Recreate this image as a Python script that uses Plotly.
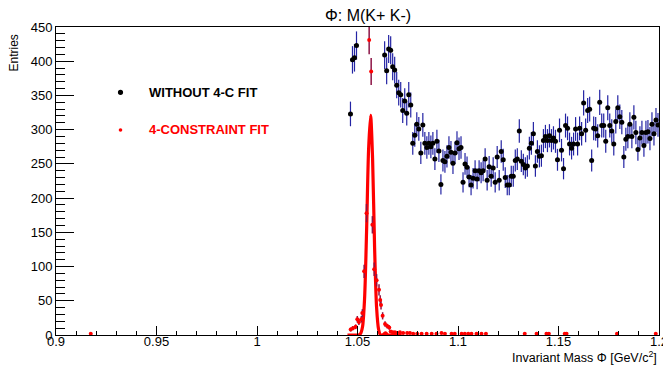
import numpy as np
import plotly.graph_objects as go

FONT = "Liberation Sans, Arial, sans-serif"

# ---------------- data ----------------
# black histogram (without 4-C fit): bin centres 1.0465 .. 1.1995, width 0.001
black_mass = [round(1.0465 + 0.001 * i, 4) for i in range(154)]
black_counts = [
    323, 402, 405, 423,
    None, None, None, None, None, None, None, None, None, None, None, None, None,   # off scale (>450)
    409, 386, 418, 416, 392, 387, 365, 354, 351, 328, 342, 324, 351, 336, 280, 292,
    308, 301, 266, 307, 280, 274, 280, 275, 280, 257, 283,
    269, 220, 255, 253, 261, 274, 267, 251, 266, 281, 272, 274, 223, 250, 245, 231,
    219, 229, 240, 228, 240, 237, 240, 257, 226, 246, 232, 244, 223, 260, 226, 268,
    256, 230, 219, 219, 232, 232, 255, 257, 298, 254, 249, 244, 247, 273, 280, 294,
    247, 268, 261, 262, 284, 290, 284, 291, 284, 288, 283, 256, 299, 270, 243, 306,
    302, 279, 273, 279, 301, 279, 302, 294, 339, 299, 328, 330, 255, 302, 301, 291,
    340, 306, 306, 283, 332, 306, 298, 279, 312, 332, 319, 311, 260, 286, 290, 308,
    290, 318, 296, 271, 288, 296, 277, 296, 297, 287, 308, 294, 314, 307,
]

# red histogram (4-constraint fit) markers
red_mass = [0.9173, 1.0466, 1.0477, 1.0491, 1.0499, 1.0507, 1.0519, 1.0524, 1.0533,
            1.0545, 1.0558, 1.0568, 1.0574, 1.0583, 1.0595, 1.0607, 1.0613, 1.0617,
            1.0625, 1.0637, 1.0648, 1.0658, 1.0665, 1.0675, 1.0686, 1.0695, 1.0711,
            1.0727, 1.0747, 1.0761, 1.0777, 1.0797, 1.0819, 1.0844, 1.0869, 1.0893,
            1.0918, 1.0935, 1.0968, 1.0984, 1.1018, 1.1034, 1.1051, 1.1067, 1.1092,
            1.1117, 1.1139, 1.1332, 1.1391, 1.1440, 1.1452, 1.1531, 1.1540, 1.1791,
            1.1984]
red_counts = [2, 8, 10, 12, 23, 19, 23, 32, 93,
              178, 431, 385, 161, 96, 80, 66, 51, 44,
              28, 16, 13, 11, 5, 4, 4, 3, 4,
              3, 3, 3, 2, 2, 2, 2, 2, 2,
              3, 2, 2, 2, 2, 2, 2, 2, 2,
              2, 2, 2, 2, 2, 2, 2, 2, 2,
              2]

# smooth red curve
curve_mass = [1.0450, 1.0480, 1.0505, 1.0515, 1.0525, 1.0535, 1.0545, 1.0555, 1.0565,
              1.0575, 1.0585, 1.0595, 1.0605, 1.0615, 1.0625, 1.0640, 1.0650, 1.0660,
              1.0690, 1.0720]
curve_vals = [0, 0, 0, 2, 12, 52, 150, 270, 321,
              258, 128, 40, 8, 0, 0, 3, 0, 0,
              0, 0]

x_ticks = [0.9, 0.95, 1.0, 1.05, 1.1, 1.15, 1.2]
x_tick_text = ["0.9", "0.95", "1", "1.05", "1.1", "1.15", "1.2"]
y_ticks = [0, 50, 100, 150, 200, 250, 300, 350, 400, 450]

black_err = [None if c is None else float(np.sqrt(c)) for c in black_counts]
red_err = [float(np.sqrt(c)) for c in red_counts]

# ---------------- figure ----------------
fig = go.Figure()
fig.add_trace(go.Scatter(
    x=black_mass, y=black_counts, mode="markers",
    marker=dict(color="black", size=5),
    error_y=dict(type="data", array=black_err, color="#2424a4", thickness=1.2, width=0),
    cliponaxis=True, showlegend=False))
fig.add_trace(go.Scatter(
    x=curve_mass, y=curve_vals, mode="lines",
    line=dict(color="#ff0000", width=3.2, shape="spline", smoothing=0.8),
    showlegend=False))
fig.add_trace(go.Scatter(
    x=red_mass, y=red_counts, mode="markers",
    marker=dict(color="#ff0000", size=4),
    error_y=dict(type="data", array=red_err, color="#8c1446", thickness=1.5, width=0),
    cliponaxis=False, showlegend=False))

# page has an 8px body margin; frame in page pixels: x 56..659, y 27..335
OFF = 8
W, H = 671 - OFF, 365 - OFF
L, R, T, B = 56 - OFF, 12, 27 - OFF, 30
pw, ph = 603, 308

def px(xp):
    return (xp - 56) / pw

def py(yp):
    return (335 - yp) / ph

axis_common = dict(showline=True, linecolor="black", linewidth=1, mirror=True,
                   showgrid=False, zeroline=False, ticks="inside", tickcolor="black",
                   tickfont=dict(family=FONT, size=13, color="black"))

fig.update_layout(
    width=W, height=H,
    margin=dict(l=L, r=R, t=T, b=B, autoexpand=False),
    paper_bgcolor="white", plot_bgcolor="white",
    xaxis=dict(range=[0.9, 1.2], tickvals=x_ticks, ticktext=x_tick_text,
               ticklen=9, ticklabelstandoff=-6,
               minor=dict(dtick=0.01, tick0=0.9, ticklen=4, ticks="inside", tickcolor="black"),
               **axis_common),
    yaxis=dict(range=[0, 450], tickvals=y_ticks, ticklen=18,
               minor=dict(dtick=10, tick0=0, ticklen=9, ticks="inside", tickcolor="black"),
               **axis_common),
    showlegend=False,
)

annotations = [
    dict(text="Φ: M(K+ K-)", x=px(368), y=py(16), xref="paper", yref="paper",
         xanchor="center", yanchor="middle", showarrow=False,
         font=dict(family=FONT, size=16, color="black")),
    dict(text="Invariant Mass Φ [GeV/c<sup>2</sup>]", x=1.0, y=py(356.5), xref="paper", yref="paper",
         xanchor="right", yanchor="middle", showarrow=False,
         font=dict(family=FONT, size=12.5, color="black")),
    dict(text="Entries", x=px(14), y=py(33), xref="paper", yref="paper",
         xanchor="center", yanchor="top", textangle=-90, showarrow=False,
         font=dict(family=FONT, size=12, color="black")),
    dict(text="<b>WITHOUT 4-C FIT</b>", x=px(147), y=py(92), xref="paper", yref="paper",
         xanchor="left", yanchor="middle", showarrow=False,
         font=dict(family=FONT, size=13, color="black")),
    dict(text="<b>4-CONSTRAINT FIT</b>", x=px(147), y=py(130), xref="paper", yref="paper",
         xanchor="left", yanchor="middle", showarrow=False,
         font=dict(family=FONT, size=13, color="#ff0000")),
]
fig.update_layout(annotations=annotations)

shapes = [
    dict(type="circle", xref="paper", yref="paper", xsizemode="pixel", ysizemode="pixel",
         xanchor=px(120.5), yanchor=py(92.3), x0=-2.6, x1=2.6, y0=-2.6, y1=2.6,
         fillcolor="black", line=dict(width=0)),
    dict(type="circle", xref="paper", yref="paper", xsizemode="pixel", ysizemode="pixel",
         xanchor=px(120.5), yanchor=py(130), x0=-1.8, x1=1.8, y0=-1.8, y1=1.8,
         fillcolor="#ff0000", line=dict(width=0)),
]
fig.update_layout(shapes=shapes)

fig.write_html("out.html")
